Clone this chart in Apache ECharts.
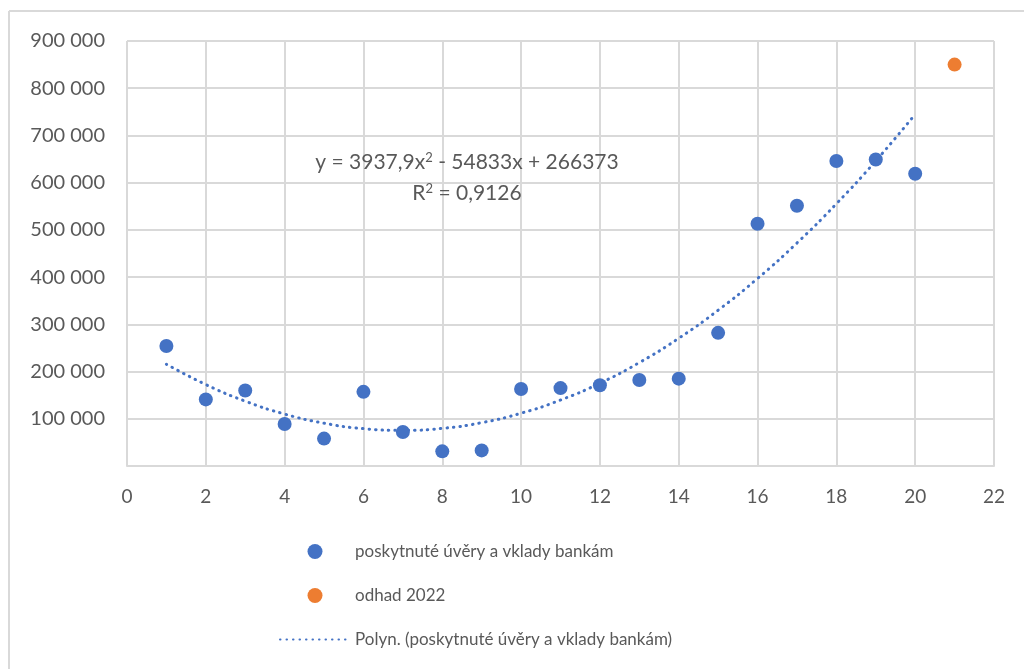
<!DOCTYPE html>
<html>
<head>
<meta charset="utf-8">
<script src="https://cdn.jsdelivr.net/npm/echarts@6/dist/echarts.min.js"></script>
<style>html,body{margin:0;padding:0;background:#fff}#c{width:1024px;height:669px}</style>
</head>
<body>
<div id="c"></div>
<script>
const xValues = [1,2,3,4,5,6,7,8,9,10,11,12,13,14,15,16,17,18,19,20];
const loansValues = [254000,141000,160000,89000,58000,157000,72000,31000,33000,163000,165000,171000,182000,185000,282000,513000,551000,646000,649000,619000];
const estimateX = [21];
const estimateValues = [850000];
const trendValues = [215500,172500,137300,110000,90700,79100,75500,79700,91800,111800,139700,175400,219000,270500,329900,397100,472300,555300,646100,744900];
const seriesNames = ['poskytnuté úvěry a vklady bankám','odhad 2022','Polyn. (poskytnuté úvěry a vklady bankám)'];
const equationLines = ['y = 3937,9x{sup|2} - 54833x + 266373','R{sup|2} = 0,9126'];

const FONT = 'Lato, "Open Sans", sans-serif';
const TXT = '#595959';
const GRID = '#D9D9D9';

const chart = echarts.init(document.getElementById('c'), null, {renderer:'canvas'});
function fmt(v){ if(v===0) return ''; return String(v).replace(/\B(?=(\d{3})+(?!\d))/g,' '); }

const eqRich = {sup:{fontSize:13, fontFamily:FONT, fill:TXT, padding:[0,0,9,0], verticalAlign:'top'}};

chart.setOption({
  animation:false,
  textStyle:{fontFamily:FONT},
  grid:{left:127, right:30, top:41, bottom:203, containLabel:false},
  xAxis:{type:'value', min:0, max:22, interval:2,
    axisLine:{show:true, lineStyle:{color:GRID, width:2}},
    axisTick:{show:false},
    axisLabel:{color:TXT, fontSize:19, fontFamily:FONT, margin:21},
    splitLine:{show:true, lineStyle:{color:GRID, width:2}}},
  yAxis:{type:'value', min:0, max:900000, interval:100000,
    axisLine:{show:false}, axisTick:{show:false},
    axisLabel:{color:TXT, fontSize:20, fontFamily:FONT, margin:22, formatter:fmt},
    splitLine:{show:true, lineStyle:{color:GRID, width:2}}},
  legend:{orient:'vertical', left:274, top:538, itemWidth:70, itemHeight:15, itemGap:27,
    textStyle:{color:TXT, fontSize:17, fontFamily:FONT},
    data:[
      {name:seriesNames[0], icon:'circle'},
      {name:seriesNames[1], icon:'circle'},
      {name:seriesNames[2], itemStyle:{color:'rgba(0,0,0,0)', borderWidth:0}}
    ]},
  graphic:[
    {type:'line', shape:{x1:9,y1:11,x2:9,y2:669}, style:{stroke:GRID, lineWidth:2}},
    {type:'line', shape:{x1:9,y1:11,x2:1024,y2:11}, style:{stroke:GRID, lineWidth:2}},
    {type:'text', z:100, x:467, y:162, style:{text:equationLines[0], fill:TXT, fontSize:21, fontFamily:FONT, align:'center', verticalAlign:'middle', rich:eqRich}},
    {type:'text', z:100, x:467, y:193, style:{text:equationLines[1], fill:TXT, fontSize:21, fontFamily:FONT, align:'center', verticalAlign:'middle', rich:eqRich}}
  ],
  series:[
    {name:seriesNames[2], type:'line', data:xValues.map((x,i)=>[x,trendValues[i]]),
      smooth:true, symbol:'none', z:3,
      itemStyle:{color:'#4472C4'},
      lineStyle:{color:'#4472C4', width:3, type:[0.5,6], cap:'round'}},
    {name:seriesNames[0], type:'scatter', data:xValues.map((x,i)=>[x,loansValues[i]]),
      symbolSize:14, z:4, itemStyle:{color:'#4472C4', opacity:1}},
    {name:seriesNames[1], type:'scatter', data:estimateX.map((x,i)=>[x,estimateValues[i]]),
      symbolSize:14, z:4, itemStyle:{color:'#ED7D31', opacity:1}}
  ]
});
</script>
</body>
</html>
